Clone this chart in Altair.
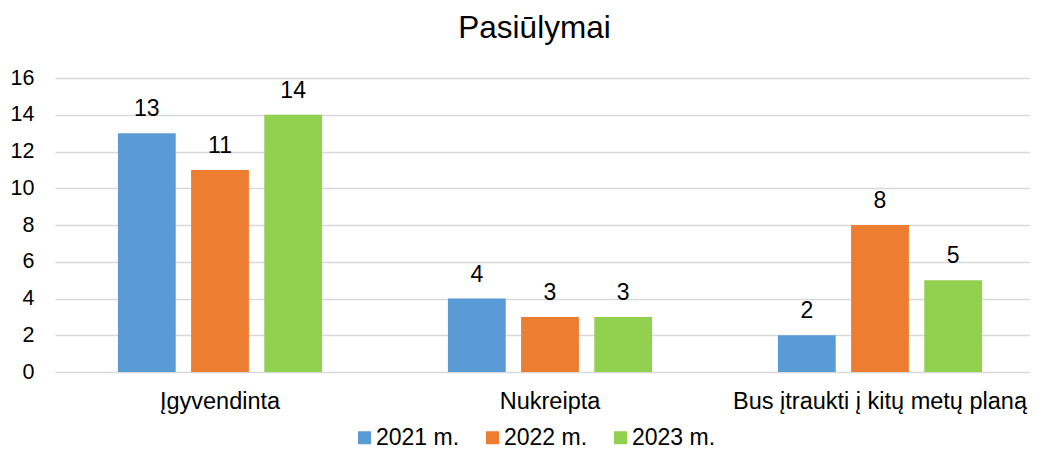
import altair as alt
import pandas as pd

categories = ["Įgyvendinta", "Nukreipta", "Bus įtraukti į kitų metų planą"]
years = ["2021 m.", "2022 m.", "2023 m."]
v2021 = [13, 4, 2]
v2022 = [11, 3, 8]
v2023 = [14, 3, 5]
colors = ["#5B9BD5", "#ED7D31", "#92D050"]
y_ticks = [0, 2, 4, 6, 8, 10, 12, 14, 16]

rows = []
for yr, vals in zip(years, [v2021, v2022, v2023]):
    for c, v in zip(categories, vals):
        rows.append({"category": c, "year": yr, "value": v})
df = pd.DataFrame(rows)

FONT = "Liberation Sans"

base = alt.Chart(df).encode(
    x=alt.X(
        "category:N",
        sort=categories,
        scale=alt.Scale(range=[0, 990], paddingInner=0, paddingOuter=0),
        axis=alt.Axis(
            title=None, labelAngle=0, ticks=False, tickSize=0,
            domainColor="#d9d9d9", domainWidth=1,
            labelFontSize=23.5, labelFont=FONT, labelColor="#000000",
            labelPadding=17, labelLimit=500,
        ),
    ),
    xOffset=alt.XOffset(
        "year:N", sort=years,
        scale=alt.Scale(paddingInner=0.21, paddingOuter=0.86),
    ),
    y=alt.Y(
        "value:Q",
        scale=alt.Scale(domain=[0, 16], nice=False),
        axis=alt.Axis(
            title=None, values=y_ticks, ticks=False, domain=False,
            gridColor="#d9d9d9", gridWidth=1.3,
            labelFontSize=21.5, labelFont=FONT, labelColor="#000000",
            labelPadding=21,
        ),
    ),
)

bars = base.mark_bar().encode(
    color=alt.Color(
        "year:N", sort=years,
        scale=alt.Scale(domain=years, range=colors),
        legend=alt.Legend(
            title=None, orient="none", direction="horizontal",
            legendX=298, legendY=348, padding=0,
            symbolType="square", symbolSize=169, symbolStrokeWidth=0,
            labelFontSize=23, labelFont=FONT, labelColor="#000000",
            labelOffset=0, columnPadding=21,
        ),
    )
)

labels = base.mark_text(
    baseline="alphabetic", dy=-17, fontSize=23, font=FONT, color="#000000"
).encode(text="value:Q")

chart = (
    alt.layer(bars, labels)
    .properties(
        width=975,
        height=294,
        title=alt.TitleParams(
            text="Pasiūlymai", fontSize=31.5, font=FONT, fontWeight="normal",
            color="#000000", anchor="middle", baseline="alphabetic",
            offset=-2, dx=-8,
        ),
        autosize=alt.AutoSizeParams(type="none"),
        padding={"left": 47, "top": 70, "right": 0, "bottom": 79},
    )
    .configure_view(stroke=None)
)

chart.save("out.html", embed_options={"renderer": "svg", "actions": False})
